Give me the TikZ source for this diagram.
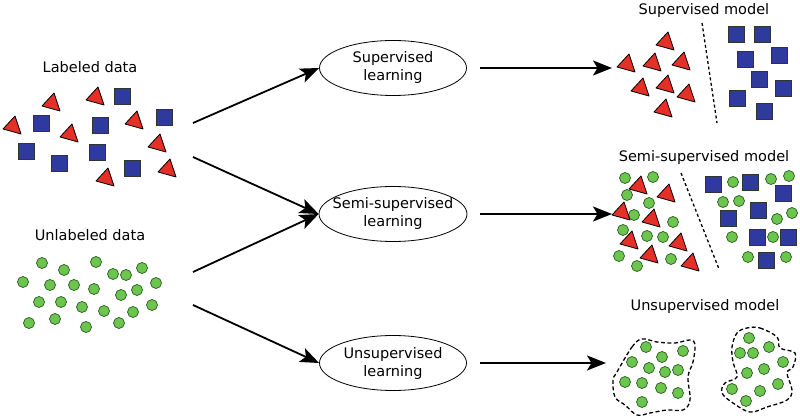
\documentclass[tikz,border=0pt]{standalone}
\usepackage{fontspec}
\setmainfont{DejaVu Sans}
\usepackage{tikz}
\usetikzlibrary{arrows.meta, shapes.geometric}
\definecolor{redtri}{RGB}{228, 48, 38}
\definecolor{bluesq}{RGB}{46, 58, 158}
\definecolor{greendot}{RGB}{108, 198, 78}
\definecolor{darkgreen}{RGB}{40, 90, 32}

\begin{document}
\begin{tikzpicture}[x=1pt, y=-1pt,
  txt/.style={font=\fontsize{14.5}{18}\selectfont, inner sep=0pt},
  learn/.style={ellipse, draw, line width=0.8pt, minimum width=147pt, minimum height=55pt,
    inner xsep=-8pt, inner ysep=0pt, align=center, font=\fontsize{14.5}{18}\selectfont},
  flow/.style={line width=1.8pt, -{Stealth[length=19pt, width=15pt, inset=4.5pt]}},
  tri/.style={fill=redtri, draw=black, line width=0.8pt, line join=round},
  sq/.style={fill=bluesq, draw=black!80, line width=0.8pt},
  dot/.style={fill=greendot, draw=darkgreen, line width=0.7pt},
  split/.style={line width=1.3pt, dash pattern=on 3pt off 2.5pt},
  blob/.style={line width=1.3pt, dash pattern=on 4pt off 2.5pt}]

  \useasboundingbox (0,0) rectangle (800,419);

  % titles
  \node[txt] (labeled) at (90,67) {Labeled data};
  \node[txt] (unlabeled) at (90,235) {Unlabeled data};
  \node[txt] (supmodel) at (704,11) {Supervised model};
  \node[txt] (semimodel) at (704,158) {Semi-supervised model};
  \node[txt] (unsupmodel) at (705,307) {Unsupervised model};

  % learning
  \node[learn] (sup) at (393,68) {Supervised\\learning};
  \node[learn] (semi) at (393,214) {Semi-supervised\\learning};
  \node[learn] (unsup) at (393,363) {Unsupervised\\learning};

  \coordinate (labA) at (193,123);
  \coordinate (labB) at (193,157);
  \coordinate (unlA) at (193,272);
  \coordinate (unlB) at (193,305);
  \coordinate (supEnd) at (612,68);
  \coordinate (semiEnd) at (612,214);
  \coordinate (unsupEnd) at (606,363);

  \draw[flow] (labA) -- (sup.west);
  \draw[flow] (labB) -- (semi.west);
  \draw[flow] (unlA) -- (semi.west);
  \draw[flow] (unlB) -- (unsup.west);
  \draw[flow] ([xshift=13pt]sup.east) -- (supEnd);
  \draw[flow] ([xshift=13pt]semi.east) -- (semiEnd);
  \draw[flow] ([xshift=13pt]unsup.east) -- (unsupEnd);

  % labeled data
  \foreach \x/\y in {52/103, 96/97, 13/126, 70/134, 135/121, 158/144, 168/169, 106/178}
    \draw[tri] (\x,\y) ++(-10,3) -- ++(12,-13) -- ++(6,18) -- cycle;
  \foreach \x/\y in {122/96, 41/123, 100/125, 164/117, 26/151, 59/163, 97/152, 132/168}
    \draw[sq] (\x,\y) ++(-8,-8) rectangle ++(16,16);

  % unlabeled data
  \foreach \x/\y in {42/263, 64/270, 96/262, 113/274, 126/275, 142/268, 23/282, 50/285,
      74/285, 94/289, 121/295, 137/290, 156/283, 39/302, 61/302, 82/307, 104/311,
      133/312, 152/305, 29/323, 55/319, 86/327, 119/323}
    \draw[dot] (\x,\y) circle (5.5pt);

  % supervised model
  \draw[split] (702,23) -- (717,123);
  \foreach \x/\y in {666/42, 627/64, 653/63, 682/62, 641/88, 666/85, 687/94, 664/109}
    \draw[tri] (\x,\y) ++(-10,3) -- ++(12,-13) -- ++(6,18) -- cycle;
  \foreach \x/\y in {736/34, 762/34, 745/59, 779/55, 759/79, 783/88, 737/98, 764/111}
    \draw[sq] (\x,\y) ++(-8,-8) rectangle ++(16,16);

  % semi-supervised model
  \draw[split] (681,173) -- (719,269);
  \foreach \x/\y in {625/178, 653/177, 627/195, 649/203, 634/215, 673/222, 623/230,
      647/236, 663/237, 619/256, 637/266, 671/259, 733/182, 771/179, 789/176, 723/202,
      739/201, 792/213, 777/219, 732/237, 773/237, 748/257, 786/257}
    \draw[dot] (\x,\y) circle (5.5pt);
  \foreach \x/\y in {639/186, 667/194, 622/212, 652/219, 630/241, 679/243, 650/255, 691/263}
    \draw[tri] (\x,\y) ++(-10,3) -- ++(12,-13) -- ++(6,18) -- cycle;
  \foreach \x/\y in {713/184, 750/182, 783/193, 728/218, 758/210, 757/237, 788/237, 766/260}
    \draw[sq] (\x,\y) ++(-8,-8) rectangle ++(16,16);

  % unsupervised model
  \draw[blob] plot[smooth cycle, tension=0.6] coordinates {(617,372) (632,347) (642,339)
    (657,342) (675,343) (690,340) (695,345) (693,362) (688,377) (690,400) (683,410)
    (667,410) (650,413) (637,415) (625,405) (615,397) (613,380)};
  \draw[blob] plot[smooth cycle, tension=0.6] coordinates {(747,328) (760,328) (777,337)
    (780,348) (795,353) (793,367) (787,373) (792,390) (787,400) (767,407) (750,412)
    (733,403) (722,393) (725,383) (737,377) (733,362) (732,347) (737,333)};
  \foreach \x/\y in {646/347, 662/357, 683/351, 632/362, 649/368, 665/372, 678/370,
      625/382, 642/383, 661/388, 678/393, 642/402, 749/338, 740/353, 753/353, 769/347,
      783/362, 764/369, 747/373, 778/384, 732/389, 760/391, 746/401}
    \draw[dot] (\x,\y) circle (5.5pt);

\end{tikzpicture}
\end{document}
